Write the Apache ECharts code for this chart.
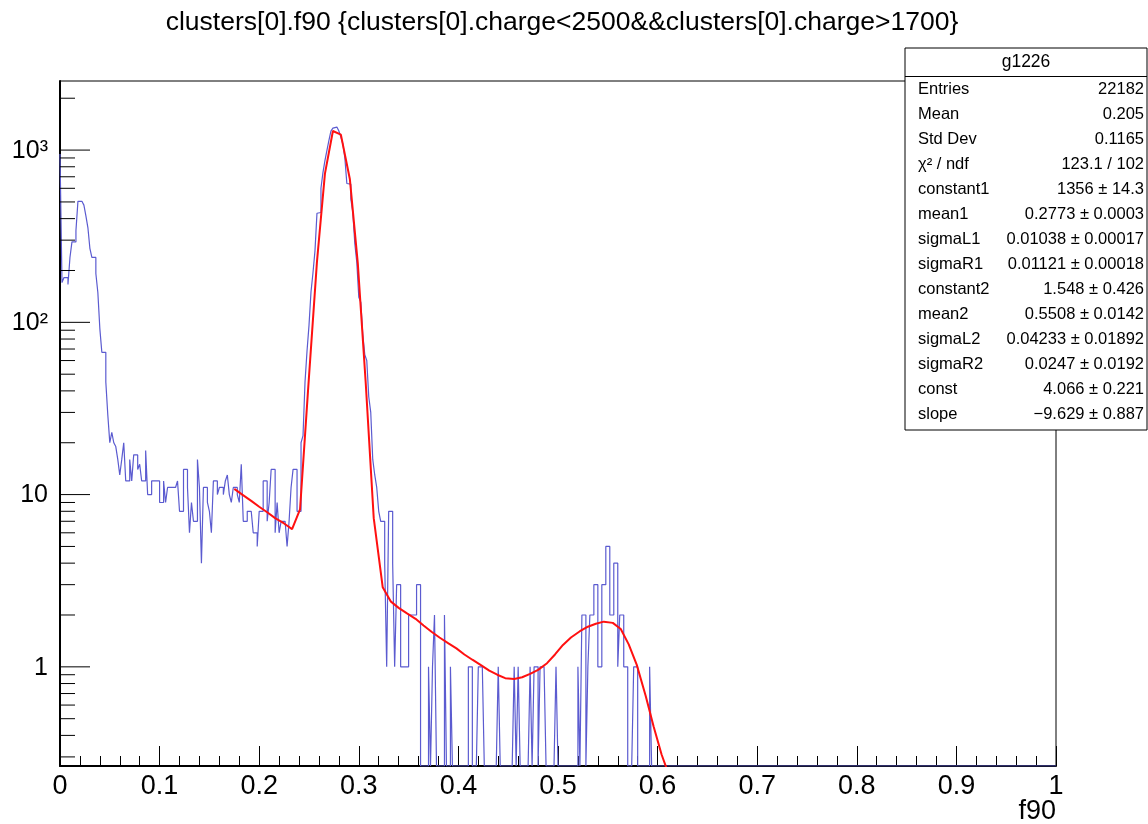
<!DOCTYPE html>
<html><head><meta charset="utf-8">
<script src="https://cdn.jsdelivr.net/npm/echarts@6/dist/echarts.min.js"></script>
<style>html,body{margin:0;padding:0;background:#fff}#c{width:1148px;height:824px}</style>
</head><body><div id="c"></div>
<script>
// ---- data ----
const binWidth = 0.002;          // 500 bins on [0,1]
const histCounts = [
950,170,182,182,166,238,293,293,340,504, 504,504,479,415,355,269,238,238,192,149,
92,67,67,45,29,20,23,20,19,16, 13,16,20,12,12,16,12,17,17,14,
15,12,12,18,10,10,12,12,12,12, 9,9,12,9,11,11,11,11,11,12,
8,8,14,14,11,6,9,7,7,16, 11,4,11,11,9,8,6,12,12,10,
11,11,10,12,13,10,9,11,11,10, 9,15,7,7,8,8,8,6,6,5,
8,8,12,12,7,9,14,14,6,9, 6,7,7,7,5,7,11,14,14,8,
8,20,22,45,68,96,150,194,260,430, 434,600,740,869,995,1140,1290,1340,1360,1340,
1290,1190,1085,900,640,634,520,434,286,223, 140,131,85,65,60,37,30,16,13,11,
8,7,7,4,1,8,8,4,1,3, 3,1,1,1,1,2,2,2,2,3,
3,0,0,0,0,1,0,1,2,0, 0,0,0,2,0,0,1,0,0,0,
0,0,0,0,0,1,1,0,0,0, 1,1,1,0,0,0,0,0,0,0,
1,0,0,0,0,0,0,0,1,0, 1,0,0,0,0,0,1,0,1,1,
0,1,1,1,0,0,0,0,0,1, 0,0,0,0,0,0,0,0,0,0,
1,0,2,2,0,1,2,2,3,3, 1,1,3,3,5,5,2,2,4,4,
1,2,2,1,1,0,0,0,1,1, 0,0,0,0,0,0,1,0,0,0,
0,0,0,0,0,0,0,0,0,0, 0,0,0,0,0,0,0,0,0,0,
0,0,0,0,0,0,0,0,0,0, 0,0,0,0,0,0,0,0,0,0,
0,0,0,0,0,0,0,0,0,0, 0,0,0,0,0,0,0,0,0,0,
0,0,0,0,0,0,0,0,0,0, 0,0,0,0,0,0,0,0,0,0,
0,0,0,0,0,0,0,0,0,0, 0,0,0,0,0,0,0,0,0,0,
0,0,0,0,0,0,0,0,0,0, 0,0,0,0,0,0,0,0,0,0,
0,0,0,0,0,0,0,0,0,0, 0,0,0,0,0,0,0,0,0,0,
0,0,0,0,0,0,0,0,0,0, 0,0,0,0,0,0,0,0,0,0,
0,0,0,0,0,0,0,0,0,0, 0,0,0,0,0,0,0,0,0,0,
0,0,0,0,0,0,0,0,0,0, 0,0,0,0,0,0,0,0,0,0
];
const fitX = [0.175,0.183,0.192,0.200,0.208,0.216,0.225,0.233,0.241,0.249,
0.258,0.266,0.274,0.282,0.291,0.299,0.307,0.315,0.324,0.332,
0.340,0.348,0.357,0.365,0.373,0.381,0.390,0.398,0.406,0.414,
0.423,0.431,0.439,0.447,0.456,0.464,0.472,0.480,0.489,0.497,
0.505,0.513,0.522,0.530,0.538,0.546,0.555,0.563,0.571,0.579,
0.588,0.596,0.604,0.612,0.621];
const fitY = [10.8,10.0,9.2,8.5,7.9,7.3,6.8,6.3,8.2,40,
225,730,1290,1230,680,220,44,7.3,2.9,2.4,
2.2,2.05,1.9,1.74,1.6,1.48,1.37,1.28,1.18,1.10,
1.02,0.95,0.90,0.86,0.85,0.87,0.91,0.96,1.05,1.18,
1.34,1.48,1.61,1.71,1.78,1.83,1.80,1.66,1.35,1.03,
0.68,0.45,0.31,0.23,0.17];
const yMin = 0.2657, yMax = 2518;
const xTickInterval = 0.1;
const yMajorTicks = [1, 10, 100, 1000];
const yMajorLabels = ['1', '10', '10\u00B2', '10\u00B3'];
const yMinorTicks = [0.3,0.4,0.5,0.6,0.7,0.8,0.9, 2,3,4,5,6,7,8,9, 20,30,40,50,60,70,80,90, 200,300,400,500,600,700,800,900, 2000];
const titleText = 'clusters[0].f90 {clusters[0].charge<2500&&clusters[0].charge>1700}';
const xTitle = 'f90';
const statsName = 'g1226';
const statsLabels = ['Entries','Mean','Std Dev','\u03C7\u00B2 / ndf','constant1','mean1','sigmaL1','sigmaR1','constant2','mean2','sigmaL2','sigmaR2','const','slope'];
const statsValues = ['22182','0.205','0.1165','123.1 / 102','1356 \u00B1 14.3','0.2773 \u00B1 0.0003','0.01038 \u00B1 0.00017','0.01121 \u00B1 0.00018','1.548 \u00B1 0.426','0.5508 \u00B1 0.0142','0.04233 \u00B1 0.01892','0.0247 \u00B1 0.0192','4.066 \u00B1 0.221','\u22129.629 \u00B1 0.887'];

// ---- build ----
const FONT = '"Liberation Sans", Arial, Helvetica, sans-serif';
const histPts = [];
histCounts.forEach((c, i) => {
  const v = c > 0 ? c : yMin;
  histPts.push([i * binWidth, v], [(i + 1) * binWidth, v]);
});
const fitPts = fitX.map((x, i) => [x, fitY[i]]);

const statsGraphic = [];
const boxL = 905, boxT = 48, boxW = 242, boxH = 382, rowH = 25.05;
statsGraphic.push({type:'rect', shape:{x:boxL, y:boxT, width:boxW, height:boxH}, style:{fill:'#fff', stroke:'#000', lineWidth:1}, z:10});
statsGraphic.push({type:'line', shape:{x1:boxL, y1:boxT+28.5, x2:boxL+boxW, y2:boxT+28.5}, style:{stroke:'#000', lineWidth:1}, z:11});
statsGraphic.push({type:'text', x:boxL+boxW/2, y:boxT+14.5, style:{text:statsName, font:'17.5px ' + FONT, fill:'#000', align:'center', verticalAlign:'middle'}, z:11});
statsLabels.forEach((t, i) => {
  const y = 89 + i * rowH;
  statsGraphic.push({type:'text', x:918, y:y, style:{text:t, font:'16.5px ' + FONT, fill:'#000', align:'left', verticalAlign:'middle'}, z:11});
  statsGraphic.push({type:'text', x:1144, y:y, style:{text:statsValues[i], font:'16.5px ' + FONT, fill:'#000', align:'right', verticalAlign:'middle'}, z:11});
});

const chart = echarts.init(document.getElementById('c'), null, {renderer:'canvas'});
chart.setOption({
  animation: false,
  backgroundColor: '#fff',
  grid: {left:60, right:92, top:81, bottom:58, show:true, borderColor:'#000', borderWidth:1, backgroundColor:'transparent'},
  xAxis: {
    type:'value', min:0, max:1, interval:xTickInterval,
    axisLine:{show:true, onZero:false, lineStyle:{color:'#000', width:2}},
    axisTick:{show:true, inside:true, length:20, lineStyle:{color:'#000', width:1}},
    minorTick:{show:true, splitNumber:5, length:10, lineStyle:{color:'#000', width:1}},
    splitLine:{show:false},
    axisLabel:{fontSize:27, color:'#000', fontFamily:FONT, margin:7}
  },
  yAxis: {
    type:'log', logBase:10, min:yMin, max:yMax,
    axisLine:{show:true, lineStyle:{color:'#000', width:2}},
    axisTick:{show:false}, axisLabel:{show:false}, splitLine:{show:false}, minorTick:{show:false}
  },
  series: [
    {type:'line', data:histPts, showSymbol:false, symbol:'none', lineStyle:{color:'#5b5bd0', width:1.2}, z:3, clip:true},
    {type:'line', data:fitPts, showSymbol:false, symbol:'none', lineStyle:{color:'#ff1010', width:2}, z:4, clip:true},
    {type:'custom', coordinateSystem:'cartesian2d', z:6, clip:false,
      data: yMajorTicks.map(v => [0, v]),
      renderItem: (params, api) => {
        const p = api.coord([0, api.value(1)]);
        return {type:'group', children:[
          {type:'line', shape:{x1:p[0], y1:p[1], x2:p[0]+30, y2:p[1]}, style:{stroke:'#000', lineWidth:1}},
          {type:'text', x:p[0]-12, y:p[1]+1, style:{text:yMajorLabels[params.dataIndex], font:'25px ' + FONT, fill:'#000', align:'right', verticalAlign:'middle'}}
        ]};
      }},
    {type:'custom', coordinateSystem:'cartesian2d', z:6, clip:false,
      data: yMinorTicks.map(v => [0, v]),
      renderItem: (params, api) => {
        const p = api.coord([0, api.value(1)]);
        return {type:'line', shape:{x1:p[0], y1:p[1], x2:p[0]+15, y2:p[1]}, style:{stroke:'#000', lineWidth:1}};
      }}
  ],
  graphic: [
    {type:'text', x:562, y:23, style:{text:titleText, font:'26.5px ' + FONT, fill:'#000', align:'center', verticalAlign:'middle'}},
    {type:'text', x:1056, y:812, style:{text:xTitle, font:'27px ' + FONT, fill:'#000', align:'right', verticalAlign:'middle'}}
  ].concat(statsGraphic)
});
</script></body></html>
